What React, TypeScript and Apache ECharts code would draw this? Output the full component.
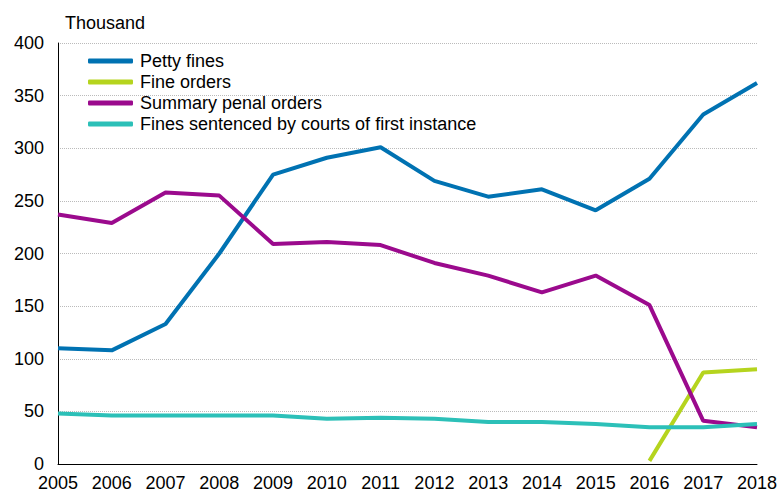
import React, { useEffect, useRef } from "react";
import * as echarts from "echarts";

const years = ["2005","2006","2007","2008","2009","2010","2011","2012","2013","2014","2015","2016","2017","2018"];
const pettyFines = [110, 108, 133, 200, 275, 291, 301, 269, 254, 261, 241, 271, 332, 362];
const fineOrders = [null, null, null, null, null, null, null, null, null, null, null, 3, 87, 90];
const summaryPenal = [237, 229, 258, 255, 209, 211, 208, 191, 179, 163, 179, 151, 41, 35];
const courtFines = [48, 46, 46, 46, 46, 43, 44, 43, 40, 40, 38, 35, 35, 38];

const names = ["Petty fines", "Fine orders", "Summary penal orders", "Fines sentenced by courts of first instance"];
const colors = ["#0072B2", "#B5D41E", "#9B0A8D", "#2CC0B8"];

export default function App() {
  const ref = useRef<HTMLDivElement>(null);
  useEffect(() => {
    if (!ref.current) return;
    const chart = echarts.init(ref.current, null, { renderer: "svg" });
    const font = "Arial, 'Liberation Sans', sans-serif";
    const mk = (i: number, data: (number | null)[]) => ({
      name: names[i],
      type: "line",
      data,
      showSymbol: false,
      symbol: "none",
      lineStyle: { width: 4, color: colors[i] },
      itemStyle: { color: colors[i] },
      connectNulls: false,
    });
    chart.setOption({
      animation: false,
      backgroundColor: "#ffffff",
      textStyle: { fontFamily: font },
      grid: { left: 58, right: 25, top: 43, bottom: 30, containLabel: false },
      legend: {
        orient: "vertical",
        left: 83,
        top: 47,
        itemWidth: 45,
        itemHeight: 5,
        itemGap: 3,
        icon: "roundRect",
        textStyle: { fontSize: 18, color: "#000", fontFamily: font, padding: [0, 0, 0, 2] },
        data: names,
      },
      graphic: [
        {
          type: "text",
          left: 65,
          top: 14,
          style: { text: "Thousand", fontSize: 18, fill: "#000", fontFamily: font },
        },
      ],
      xAxis: {
        type: "category",
        data: years,
        boundaryGap: false,
        axisLine: { show: true, lineStyle: { color: "#000", width: 1 } },
        axisTick: { show: false },
        axisLabel: { fontSize: 18, color: "#000", margin: 10, fontFamily: font, interval: 0 },
        splitLine: { show: false },
      },
      yAxis: {
        type: "value",
        min: 0,
        max: 400,
        interval: 50,
        axisLine: { show: true, lineStyle: { color: "#000", width: 1 } },
        axisTick: { show: false },
        axisLabel: { fontSize: 18, color: "#000", margin: 14, fontFamily: font },
        splitLine: { show: true, lineStyle: { color: "#bbbbbb", type: "dotted", width: 1 } },
      },
      series: [
        mk(0, pettyFines),
        mk(1, fineOrders),
        mk(2, summaryPenal),
        mk(3, courtFines),
      ],
    });
    return () => chart.dispose();
  }, []);
  return <div ref={ref} style={{ position: "fixed", left: 0, top: 0, width: 782, height: 494 }} />;
}
